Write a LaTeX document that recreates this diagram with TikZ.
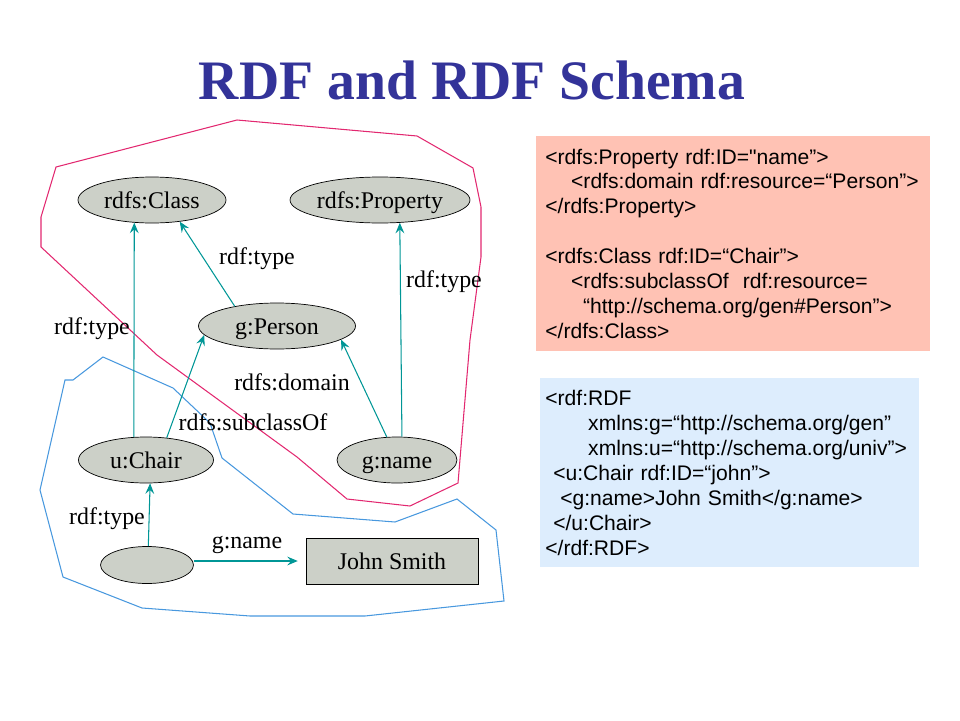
\documentclass[tikz,border=0pt]{standalone}
\usepackage{tikz}
\usepackage{fontspec}
\usetikzlibrary{shapes.geometric, arrows.meta}
\setmainfont{Liberation Serif}
\newfontfamily\codefont{Liberation Sans}
\definecolor{titleblue}{RGB}{51,51,153}
\definecolor{edgeteal}{RGB}{0,150,150}
\definecolor{nodegray}{RGB}{204,208,200}
\definecolor{schemapink}{RGB}{226,40,112}
\definecolor{instblue}{RGB}{72,152,222}
\definecolor{codepink}{RGB}{255,194,180}
\definecolor{codeblue}{RGB}{221,237,253}

\begin{document}
\begin{tikzpicture}[x=0.02cm, y=-0.02cm,
    res/.style={ellipse, draw=black, fill=nodegray, inner sep=0pt, minimum height=0.92cm, text height=10pt, text depth=0pt},
    lbl/.style={inner sep=0pt, text height=10pt, text depth=0pt},
    arr/.style={draw=edgeteal, line width=0.6pt, -{Stealth[length=6pt, width=5pt, inset=2.2pt]}},
    codebox/.style={anchor=north west, align=left, inner ysep=0pt, font=\codefont\fontsize{12}{14.2}\selectfont},
    every node/.style={font=\fontsize{13.6}{16}\selectfont}]
      \useasboundingbox (0,0) rectangle (960,720);

      \node[inner sep=0pt, text=titleblue, font=\bfseries\fontsize{31.7}{36}\selectfont] (title) at (472,80) {RDF and RDF Schema};

      % schema and instance regions
      \draw[schemapink, line width=0.6pt] (56,167) -- (237,120) -- (417,136) -- (473,168) -- (481,207)
        -- (481,257) -- (470,340) -- (458,483) -- (410,506) -- (347,499) -- (297,457) -- (157,355)
        -- (41,247) -- (41,217) -- cycle;
      \draw[instblue, line width=0.6pt] (103,357) -- (73,380) -- (65,380) -- (40,490) -- (63,577)
        -- (142,608) -- (250,616) -- (365,616) -- (504,601) -- (496,530) -- (457,499) -- (395,522)
        -- (293,514) -- (222,458) -- (210,423) -- (173,388) -- cycle;

      % resources
      \node[res, minimum width=2.96cm] (class) at (152,200) {rdfs:Class};
      \node[res, minimum width=3.6cm] (property) at (380,200) {rdfs:Property};
      \node[res, minimum width=3.14cm] (person) at (277,326) {g:Person};
      \node[res, minimum width=2.7cm] (chair) at (146,460) {u:Chair};
      \node[res, minimum width=2.4cm] (name) at (397,460) {g:name};
      \node[res, minimum width=1.86cm, minimum height=0.74cm] (john) at (147,565) {};
      \node[draw=black, fill=nodegray, minimum width=3.44cm, minimum height=0.92cm, text height=10pt, text depth=0pt] (smith) at (392,561) {John Smith};

      % properties
      \draw[arr] (chair.118) -- (class.232);
      \draw[arr] (person.155) -- (class.322);
      \draw[arr] (name.78) -- (property.311);
      \draw[arr] (chair.47) -- (person.187);
      \draw[arr] (name.114) -- (person.348);
      \draw[arr] (john.86) -- (chair.280);
      \draw[arr, shorten >=4.5pt] (john.east |- smith.west) -- (smith.west);

      \node[lbl] (typeclass) at (257,256) {rdf:type};
      \node[lbl] (typeprop) at (444,279) {rdf:type};
      \node[lbl] (typechair) at (92,326) {rdf:type};
      \node[lbl] (domain) at (292,382) {rdfs:domain};
      \node[lbl] (subclass) at (253,422) {rdfs:subclassOf};
      \node[lbl] (typejohn) at (107,516) {rdf:type};
      \node[lbl] (gname) at (247,540) {g:name};

      % xml code
      \node[codebox, fill=codepink, minimum width=7.88cm, minimum height=4.3cm, inner xsep=0.18cm, text width=7.52cm] (schemacode) at (536,136) {%
        <rdfs:Property rdf:ID="name”>\\
        \hspace*{14.7pt}<rdfs:domain rdf:resource=“Person”>\\
        </rdfs:Property>\\[14.2pt]
        <rdfs:Class rdf:ID=“Chair”>\\
        \hspace*{14.7pt}<rdfs:subclassOf\ \ rdf:resource=\\
        \hspace*{21.5pt}“http://schema.org/gen\#Person”>\\
        </rdfs:Class>};
      \node[codebox, fill=codeblue, minimum width=7.58cm, minimum height=3.78cm, inner xsep=0.1cm, text width=7.38cm] (rdfcode) at (540,378) {%
        <rdf:RDF\\
        \hspace*{24.4pt}xmlns:g=“http://schema.org/gen”\\
        \hspace*{24.4pt}xmlns:u=“http://schema.org/univ”>\\
        \hspace*{4.5pt}<u:Chair rdf:ID=“john”>\\
        \hspace*{8.5pt}<g:name>John Smith</g:name>\\
        \hspace*{4.5pt}</u:Chair>\\
        </rdf:RDF>};
    \end{tikzpicture}
\end{document}
